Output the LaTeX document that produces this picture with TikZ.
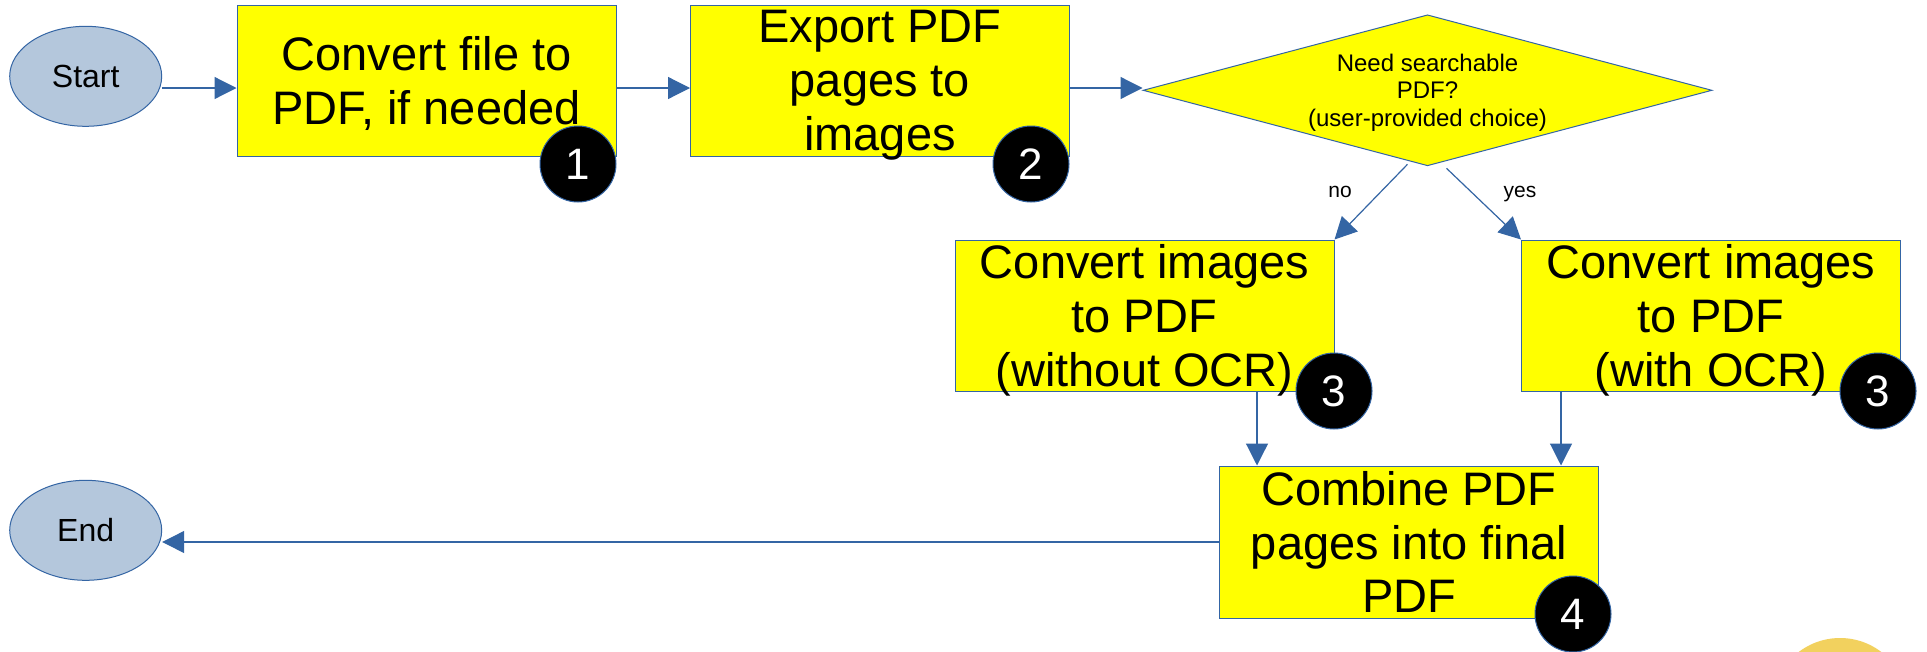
\documentclass[tikz,border=0pt]{standalone}
\usepackage{fontspec}
\setmainfont{Liberation Sans}
\usetikzlibrary{arrows.meta,shapes.geometric,calc}
\definecolor{edge}{HTML}{3465A4}
\definecolor{term}{HTML}{B4C7DC}
\definecolor{boxfill}{HTML}{FFFF00}
\definecolor{sticker}{HTML}{F2D15E}

\begin{document}
\begin{tikzpicture}[x=1pt,y=-1pt,
  terminal/.style={ellipse, draw=edge, line width=1pt, fill=term,
    minimum width=152pt, minimum height=100pt, inner sep=0pt,
    font=\fontsize{32}{37}\selectfont},
  stepbox/.style={rectangle, draw=edge, line width=1pt, fill=boxfill,
    minimum width=379pt, minimum height=151pt, inner sep=0pt,
    align=center, text depth=0pt, font=\fontsize{47}{53.7}\selectfont},
  decision/.style={diamond, draw=edge, line width=1pt, fill=boxfill,
    minimum width=569pt, minimum height=151pt, aspect=3.77, inner sep=0pt,
    align=center, text depth=0pt, font=\fontsize{24}{27.6}\selectfont},
  badge/.style={circle, draw=edge, line width=1pt, fill=black, text=white,
    minimum size=76pt, inner sep=0pt, text depth=0pt,
    font=\fontsize{44}{50}\selectfont},
  flow/.style={draw=edge, line width=1.2pt, -{Triangle[length=22pt,width=22pt]}},
  choice/.style={font=\fontsize{21}{24}\selectfont, anchor=base, inner sep=0pt}
]
\useasboundingbox (0,0) rectangle (1927,651);
\fill[white] (0,0) rectangle (1927,651);

% partly visible round sticker in the lower right corner
\fill[sticker] (1840,706) circle[radius=68pt];

% terminals
\node[terminal] (start) at (85.7,76.3) {Start};
\node[terminal] (end)   at (85.7,530.3) {End};

% process steps
\node[stepbox] (box1)  at (426.5,80.5) {Convert file to\\PDF, if needed};
\node[stepbox] (box2)  at (880,80.5)   {Export PDF\\pages to\\images};
\node[stepbox] (box3a) at (1144.5,315.5) {Convert images\\to PDF\\(without OCR)};
\node[stepbox] (box3b) at (1711,315.5)   {Convert images\\to PDF\\(with OCR)};
\node[stepbox, minimum height=152pt] (box4) at (1409,542) {Combine PDF\\pages into final\\PDF};

% decision
\node[decision] (dec) at (1427.5,90.3) {Need searchable\\PDF?\\(user-provided choice)};

% connectors
\coordinate (a1) at ([yshift=-7.5pt]box1.west);
\coordinate (b2out) at ([yshift=-7.5pt]box2.east);
\draw[flow] (start.east |- a1) -- (a1);
\draw[flow] ([yshift=-7.5pt]box1.east) -- ([yshift=-7.5pt]box2.west);
\draw[flow] (b2out) -- (dec.west |- b2out);
\draw[flow] ([xshift=-20pt,yshift=2pt]dec.south) -- (box3a.north east);
\draw[flow] ([xshift=19pt,yshift=-2pt]dec.south) -- (box3b.north west);
\node[choice] (nolabel)  at (1340,197) {no};
\node[choice] (yeslabel) at (1520,197) {yes};

\coordinate (m1) at ([xshift=38pt]box4.north west);
\coordinate (m2) at ([xshift=-38pt]box4.north east);
\draw[flow] (box3a.south -| m1) -- (m1);
\draw[flow] (box3b.south -| m2) -- (m2);
\draw[flow] (box4.west) -- (end.east |- box4.west);

% step numbers
\node[badge] (n1)  at (578,164)  {1};
\node[badge] (n2)  at (1031,164) {2};
\node[badge] (n3a) at (1334,391) {3};
\node[badge] (n3b) at (1878,391) {3};
\node[badge] (n4)  at (1573,614) {4};
\end{tikzpicture}
\end{document}
